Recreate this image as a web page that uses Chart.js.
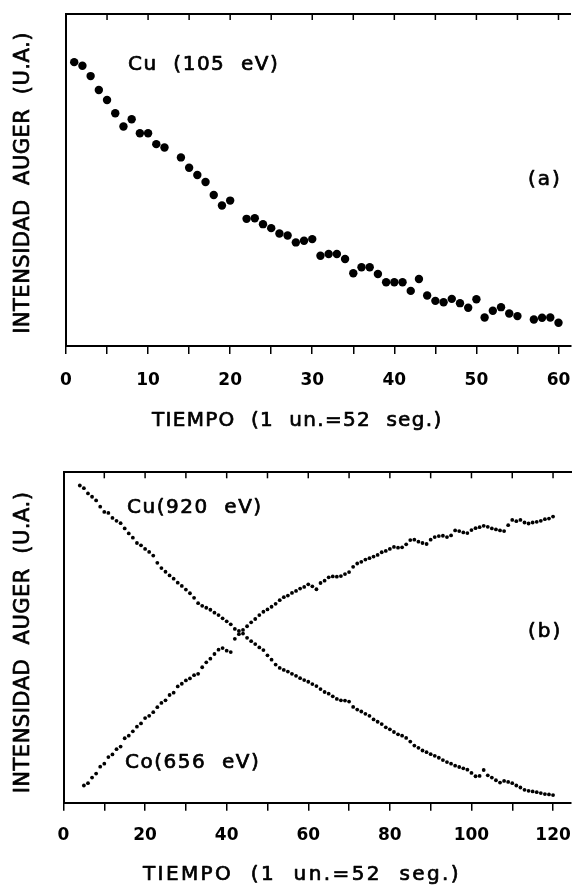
<!DOCTYPE html>
<html>
<head>
<meta charset="utf-8">
<script src="https://cdn.jsdelivr.net/npm/chart.js@4.4.1/dist/chart.umd.min.js"></script>
<style>
html,body{margin:0;padding:0;background:#fff;}
#wrap{position:relative;width:575px;height:890px;overflow:hidden;}
canvas{position:absolute;left:0;}
#c1{top:0;}
#c2{top:445px;}
</style>
</head>
<body>
<div id="wrap">
<canvas id="c1" width="575" height="445" style="width:575px;height:445px"></canvas>
<canvas id="c2" width="575" height="445" style="width:575px;height:445px"></canvas>
</div>
<script>
// ---------- Panel (a): Cu (105 eV) ----------
const timeA = [1,2,3,4,5,6,7,8,9,10,11,12,14,15,16,17,18,19,20,22,23,24,25,26,27,28,29,30,31,32,33,34,35,36,37,38,39,40,41,42,43,44,45,46,47,48,49,50,51,52,53,54,55,57,58,59,60];
const cu105 = [85.5,84.4,81.3,77.1,74.1,70.1,66.1,68.3,64.1,64.1,60.8,59.8,56.8,53.7,51.5,49.4,45.5,42.3,43.8,38.3,38.5,36.7,35.5,33.9,33.3,31.2,31.7,32.2,27.2,27.7,27.7,26.2,21.9,23.7,23.7,21.7,19.2,19.2,19.2,16.6,20.2,15.2,13.6,13.2,14.2,12.9,11.5,14.1,8.6,10.6,11.7,9.8,9.0,8.0,8.5,8.6,7.0];
const ticksA = [0,5,10,15,20,25,30,35,40,45,50,55,60];
const tickLabelsA = ['0','','10','','20','','30','','40','','50','','60'];
const topTicksA = [5,10,15,20,25,30,35,40,45,50,55,60];

// ---------- Panel (b): Cu (920 eV) and Co (656 eV) ----------
const timeB = [4,5,6,7,8,9,10,11,12,13,14,15,16,17,18,19,20,21,22,23,24,25,26,27,28,29,30,31,32,33,34,35,36,37,38,39,40,41,42,43,44,45,46,47,48,49,50,51,52,53,54,55,56,57,58,59,60,61,62,63,64,65,66,67,68,69,70,71,72,73,74,75,76,77,78,79,80,81,82,83,84,85,86,87,88,89,90,91,92,93,94,95,96,97,98,99,100,101,102,103,104,105,106,107,108,109,110,111,112,113,114,115,116,117,118,119,120];
const cu920 = [96.0,95.2,93.6,92.6,91.5,89.6,88.0,87.7,86.2,85.3,
84.6,83.0,81.5,80.2,78.6,77.9,76.8,75.9,74.8,72.6,
71.0,69.9,68.8,67.8,66.6,65.6,64.5,63.4,62.0,60.4,
59.6,59.0,58.4,57.5,56.8,55.8,54.9,54.0,52.6,52.0,
51.2,49.9,48.9,48.0,47.0,46.2,44.6,43.3,41.8,40.8,
40.2,39.7,39.0,38.4,37.7,37.1,36.6,35.9,35.3,34.4,
33.5,33.0,32.2,31.4,31.0,30.9,30.6,29.0,28.2,27.6,
26.9,26.3,25.2,24.5,23.8,22.8,22.2,21.4,20.7,20.3,
19.6,18.5,17.3,16.6,15.8,15.3,14.7,14.2,13.6,12.9,
12.3,11.8,11.2,10.8,10.4,10.0,9.0,8.0,8.1,9.9,
8.3,7.6,6.8,6.1,6.6,6.3,5.9,5.2,4.6,3.9,
3.6,3.4,3.2,2.9,2.6,2.5,2.3];
const co656 = [null,5.2,5.9,7.6,8.8,10.9,11.8,13.8,14.6,16.2,
17.0,19.5,20.3,21.6,23.0,24.0,25.6,26.3,27.4,28.9,
30.2,31.0,32.6,33.3,35.2,36.0,37.0,37.6,38.6,39.0,
41.0,42.5,43.6,45.0,46.3,46.8,46.0,45.6,49.6,51.0,
52.3,53.4,54.6,55.6,56.8,57.8,58.5,59.3,60.2,61.3,
62.2,62.7,63.5,64.1,64.8,65.3,66.1,65.5,64.6,66.5,
67.2,68.2,68.5,68.4,68.6,69.2,69.8,71.4,72.4,72.9,
73.6,74.0,74.5,75.0,75.8,76.2,76.8,77.4,77.2,77.3,
78.2,79.5,79.6,79.0,78.6,78.3,79.6,80.4,80.7,80.8,
80.4,80.9,82.4,82.2,81.8,81.6,82.5,83.1,83.4,83.8,
83.5,83.0,82.7,82.4,82.2,84.0,85.6,85.2,85.6,84.8,
84.5,84.8,85.0,85.3,85.8,86.0,86.6];
const ticksB = [0,10,20,30,40,50,60,70,80,90,100,110,120];
const tickLabelsB = ['0','','20','','40','','60','','80','','100','','120'];
const topTicksB = [10,20,30,40,50,60,70,80,90,100,110,120];

const FONT = 'DejaVu Sans';

function txt(ctx, s, x, y, size, ls, align, rot) {
  ctx.save();
  ctx.font = 'normal ' + size + 'px "' + FONT + '"';
  ctx.fillStyle = '#000';
  ctx.strokeStyle = '#000';
  ctx.lineWidth = 0.7;
  ctx.lineJoin = 'round';
  ctx.textBaseline = 'middle';
  ctx.textAlign = align || 'left';
  if ('letterSpacing' in ctx) ctx.letterSpacing = ls + 'px';
  ctx.translate(x, y);
  if (rot) ctx.rotate(rot);
  ctx.fillText(s, 0, 0);
  ctx.strokeText(s, 0, 0);
  ctx.restore();
}

function makeChart(id, cfg) {
  const pts = (xs, ys) => xs.map((x, i) => ({x: x, y: ys[i]}));
  const datasets = cfg.series.map(s => ({
    data: pts(s.x, s.y),
    pointRadius: s.r,
    pointBackgroundColor: '#000',
    pointBorderWidth: 0,
    showLine: false
  }));
  const deco = {
    id: 'deco_' + id,
    afterDraw(chart) {
      const ctx = chart.ctx;
      const xs = chart.scales.x;
      const top = chart.chartArea.top;
      ctx.save();
      ctx.strokeStyle = '#000';
      ctx.lineWidth = 1.5;
      cfg.topTicks.forEach(v => {
        const px = xs.getPixelForValue(v);
        ctx.beginPath();
        ctx.moveTo(px, top);
        ctx.lineTo(px, top + 6);
        ctx.stroke();
      });
      ctx.restore();
      cfg.texts.forEach(t => txt(ctx, t.s, t.x, t.y, t.size, t.ls, t.align, t.rot));
    }
  };
  return new Chart(document.getElementById(id), {
    type: 'scatter',
    data: {datasets: datasets},
    options: {
      responsive: false,
      devicePixelRatio: 1,
      animation: false,
      events: [],
      layout: {padding: 0},
      plugins: {legend: {display: false}, tooltip: {enabled: false}},
      scales: {
        x: {
          type: 'linear', position: 'bottom', min: 0, max: cfg.xmax,
          afterBuildTicks: s => { s.ticks = cfg.ticks.map(v => ({value: v})); },
          afterFit: s => { s.height = cfg.bottomH; s.paddingLeft = 0; s.paddingRight = 0; },
          ticks: {
            autoSkip: false, maxRotation: 0, padding: cfg.tickPad, color: '#000',
            font: {family: FONT, size: 17, weight: 'bold'},
            callback: (v, i) => cfg.tickLabels[i]
          },
          grid: {display: true, drawOnChartArea: false, drawTicks: true, tickLength: 8, color: '#000', lineWidth: 1.5},
          border: {display: true, color: '#000', width: 2}
        },
        xTop: {
          type: 'linear', position: 'top', min: 0, max: cfg.xmax,
          afterFit: s => { s.height = cfg.topH; s.paddingLeft = 0; s.paddingRight = 0; },
          ticks: {display: false},
          grid: {display: false},
          border: {display: true, color: '#000', width: 2}
        },
        y: {
          type: 'linear', position: 'left', min: 0, max: 100,
          afterFit: s => { s.width = cfg.leftW; s.paddingTop = 0; s.paddingBottom = 0; },
          ticks: {display: false},
          grid: {display: false},
          border: {display: true, color: '#000', width: 2}
        }
      }
    },
    plugins: [deco]
  });
}

makeChart('c1', {
  series: [{x: timeA, y: cu105, r: 4.2}],
  xmax: 61.5, ticks: ticksA, tickLabels: tickLabelsA, topTicks: topTicksA,
  leftW: 66, topH: 14, bottomH: 99, tickPad: 16,
  texts: [
    {s: 'Cu  (105  eV)', x: 128, y: 65, size: 20, ls: 1.5},
    {s: '(a)', x: 528, y: 180, size: 20, ls: 2},
    {s: 'INTENSIDAD  AUGER  (U.A.)', x: 24, y: 183, size: 21, ls: 0.5, align: 'center', rot: -Math.PI / 2},
    {s: 'TIEMPO  (1  un.=52  seg.)', x: 152, y: 421, size: 20, ls: 1.3}
  ]
});

makeChart('c2', {
  series: [{x: timeB, y: cu920, r: 1.9}, {x: timeB, y: co656, r: 1.9}],
  xmax: 124.4, ticks: ticksB, tickLabels: tickLabelsB, topTicks: topTicksB,
  leftW: 63.5, topH: 27.3, bottomH: 87.3, tickPad: 15,
  texts: [
    {s: 'Cu(920  eV)', x: 127, y: 63, size: 20, ls: 1.5},
    {s: 'Co(656  eV)', x: 125, y: 318, size: 20, ls: 1.5},
    {s: '(b)', x: 528, y: 187, size: 20, ls: 2},
    {s: 'INTENSIDAD  AUGER  (U.A.)', x: 24, y: 197.5, size: 21, ls: 0.5, align: 'center', rot: -Math.PI / 2},
    {s: 'TIEMPO  (1  un.=52  seg.)', x: 143, y: 430, size: 20, ls: 2.4}
  ]
});
</script>
</body>
</html>
